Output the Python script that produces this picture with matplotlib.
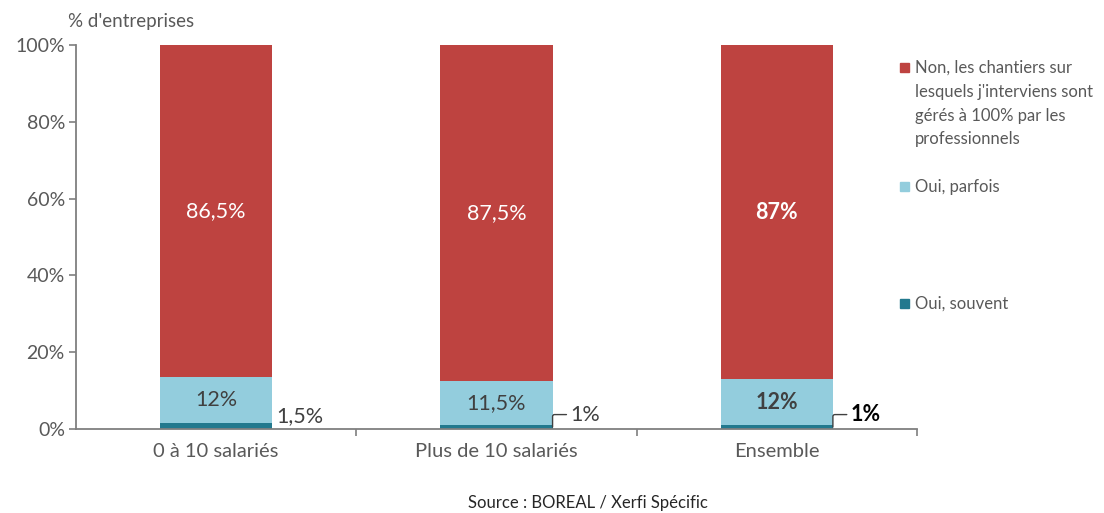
import numpy as np
import matplotlib.pyplot as plt
from matplotlib.ticker import FixedLocator, PercentFormatter

plt.rcParams['font.family'] = ['Lato', 'DejaVu Sans']

categories = ["0 à 10 salariés", "Plus de 10 salariés", "Ensemble"]
souvent = [1.5, 1, 1]
parfois = [12, 11.5, 12]
non = [86.5, 87.5, 87]
souvent_lbl = ["1,5%", "1%", "1%"]
parfois_lbl = ["12%", "11,5%", "12%"]
non_lbl = ["86,5%", "87,5%", "87%"]
legend_lbl = ["Non, les chantiers sur\nlesquels j'interviens sont\ngérés à 100% par les\nprofessionnels",
              "Oui, parfois", "Oui, souvent"]

c_non = "#BE4340"
c_parfois = "#93CDDD"
c_souvent = "#22798E"
grey = "#7F7F7F"
txt = "#404040"

fig = plt.figure(figsize=(11.04, 5.13), dpi=100)
ax = fig.add_axes([76/1104, 1-429/513, (917-76)/1104, (429-45)/513])

x = np.arange(len(categories))
w = 0.4
s = np.array(souvent)
p = np.array(parfois)
n = np.array(non)
ax.bar(x, s, w, color=c_souvent)
ax.bar(x, p, w, bottom=s, color=c_parfois)
ax.bar(x, n, w, bottom=s + p, color=c_non)

ax.set_xlim(-0.5, 2.5)
ax.set_ylim(0, 100)
ax.set_yticks(np.arange(0, 101, 20))
ax.yaxis.set_major_formatter(PercentFormatter(decimals=0))
ax.set_xticks(x)
ax.set_xticklabels(categories)
ax.xaxis.set_minor_locator(FixedLocator([0.5, 1.5, 2.5]))
ax.tick_params(axis='x', which='major', length=0, pad=10, labelsize=14.5, labelcolor="#595959")
ax.tick_params(axis='x', which='minor', length=5, width=1.2, color=grey)
ax.tick_params(axis='y', length=5, width=1.2, color=grey, labelsize=14, labelcolor="#595959", pad=3)
for sp in ['top', 'right']:
    ax.spines[sp].set_visible(False)
for sp in ['left', 'bottom']:
    ax.spines[sp].set_color(grey)
    ax.spines[sp].set_linewidth(1.3)

for i in range(len(categories)):
    bold = 'bold' if i == 2 else 'normal'
    ax.text(x[i], s[i] + p[i] + n[i] / 2, non_lbl[i], ha='center', va='center',
            fontsize=15.5, color='white', fontweight=bold)
    ax.text(x[i], s[i] + p[i] / 2, parfois_lbl[i], ha='center', va='center',
            fontsize=15.5, color=txt, fontweight=bold)
    if i == 0:
        ax.annotate(souvent_lbl[i], xy=(x[i] + w / 2, s[i] / 2), xytext=(3, 0),
                    textcoords='offset points', ha='left', va='bottom',
                    fontsize=15.5, color=txt)
    else:
        ax.annotate(souvent_lbl[i], xy=(x[i] + w / 2, s[i] / 2), xytext=(13, 9),
                    textcoords='offset points', ha='left', va='center',
                    fontsize=15.5, color='black' if i == 2 else txt, fontweight=bold,
                    arrowprops=dict(arrowstyle='-', color='#404040', lw=1,
                                    shrinkA=1, shrinkB=0,
                                    connectionstyle='angle,angleA=0,angleB=90,rad=2'))

fig.text(68/1104, 1-22/513, "% d'entreprises", fontsize=13.5, color="#595959", va='center')

leg_y = [67, 186, 303]
leg_c = [c_non, c_parfois, c_souvent]
for yy, cc, lb in zip(leg_y, leg_c, legend_lbl):
    fig.patches.append(plt.Rectangle((900/1104, 1-(yy+5)/513), 9/1104, 9/513,
                                     transform=fig.transFigure, color=cc))
    fig.text(915/1104, 1-(yy-7)/513, lb, fontsize=12, color="#595959",
             va='top', ha='left', linespacing=1.6)

fig.text(588/1104, 1-503/513, "Source : BOREAL / Xerfi Spécific", fontsize=12,
         color="#262626", ha='center', va='center')

fig.savefig("out.png", dpi=100)
